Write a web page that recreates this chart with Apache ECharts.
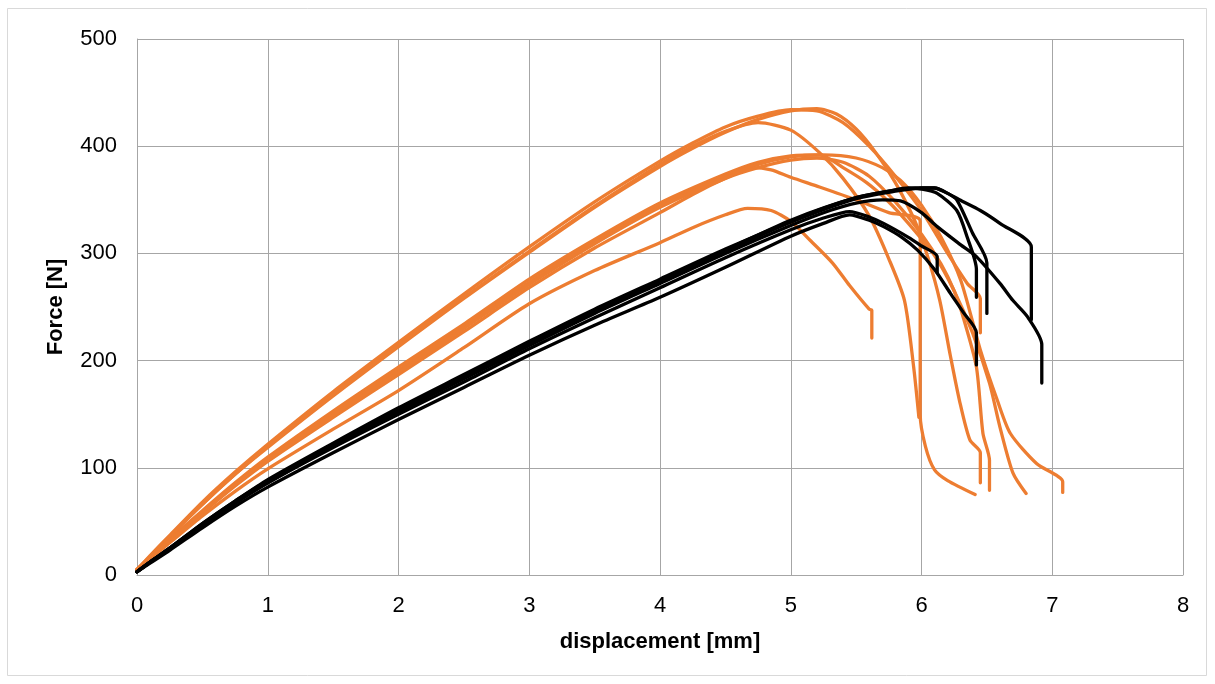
<!DOCTYPE html>
<html><head><meta charset="utf-8">
<script src="https://cdn.jsdelivr.net/npm/echarts@6/dist/echarts.min.js"></script>
<style>html,body{margin:0;padding:0;background:#fff}#c{width:1215px;height:684px}</style>
</head><body><div id="c"></div>
<script>
// Force [N] vs displacement [mm] — orange specimens
const orangeA1 = [[0,5],[0.1,18],[0.25,37],[0.5,68],[0.75,96],[1,122],[1.5,171],[2,217],[2.5,262],[3,306],[3.5,348],[4,386],[4.25,403],[4.5,418],[4.75,428],[5,434],[5.2,433],[5.4,422],[5.6,400],[5.8,372],[6.0,340],[6.2,300],[6.35,272],[6.45,258],[6.45,226]];
const orangeA2 = [[0,5],[0.1,17],[0.25,36],[0.5,66],[0.75,94],[1,119],[1.5,167],[2,213],[2.5,258],[3,301],[3.5,343],[4,381],[4.25,398],[4.5,413],[4.75,425],[5,433],[5.2,435],[5.35,430],[5.5,416],[5.65,394],[5.8,366],[5.95,330],[6.05,296],[6.14,256],[6.22,205],[6.29,163],[6.37,126],[6.45,114],[6.45,86]];
const orangeA3 = [[0,5],[0.1,17],[0.25,36],[0.5,66],[0.75,94],[1,120],[1.5,168],[2,214],[2.5,259],[3,302],[3.5,344],[4,383],[4.25,400],[4.5,414],[4.75,422],[5,415],[5.22,394],[5.4,370],[5.6,335],[5.75,295],[5.87,256],[5.94,194],[5.98,147]];
const orangeB1 = [[0,5],[0.1,16],[0.25,33],[0.5,60],[0.75,86],[1,110],[1.5,153],[2,194],[2.5,234],[3,276],[3.5,313],[4,347],[4.5,374],[4.75,385],[5,391],[5.25,392],[5.5,389],[5.7,380],[5.84,368],[6.0,345],[6.15,315],[6.3,275],[6.45,210],[6.58,163],[6.68,132],[6.88,104],[7.08,87],[7.08,77]];
const orangeB2 = [[0,5],[0.1,16],[0.25,33],[0.5,59],[0.75,85],[1,108],[1.5,151],[2,191],[2.5,232],[3,273],[3.5,311],[4,345],[4.5,372],[4.75,383],[5,390],[5.22,392],[5.4,380],[5.58,366],[5.75,348],[5.9,328],[6.1,298],[6.25,265],[6.39,226],[6.52,179],[6.6,138],[6.7,95],[6.8,76]];
const orangeB3 = [[0,5],[0.1,16],[0.25,32],[0.5,58],[0.75,83],[1,106],[1.5,147],[2,187],[2.5,227],[3,268],[3.5,305],[4,338],[4.25,355],[4.5,370],[4.7,380],[4.85,378],[5,371],[5.22,362],[5.5,350],[5.75,338],[5.99,330],[5.99,150],[6.03,120],[6.1,98],[6.2,88],[6.41,75]];
const orangeB4 = [[0,5],[0.1,16],[0.25,32],[0.5,58],[0.75,84],[1,107],[1.5,149],[2,189],[2.5,230],[3,271],[3.5,309],[4,343],[4.5,370],[4.75,380],[5,387],[5.2,389],[5.4,385],[5.6,372],[5.8,348],[6.0,318],[6.15,290],[6.25,265],[6.32,240],[6.42,194],[6.47,132],[6.52,107],[6.52,79]];
const orangeC  = [[0,5],[0.1,15],[0.25,30],[0.5,55],[0.75,78],[1,99],[1.5,136],[2,172],[2.5,212],[3,253],[3.5,284],[4,310],[4.25,324],[4.5,336],[4.67,342],[4.85,340],[5,330],[5.15,312],[5.32,291],[5.45,270],[5.6,248],[5.62,247],[5.62,221]];
// black specimens
const blackK1 = [[0,3],[0.1,12],[0.25,24],[0.5,46],[0.75,67],[1,86],[1.5,119],[2,150],[2.5,180],[3,211],[3.5,240],[4,268],[4.5,296],[5,322],[5.25,333],[5.45,339],[5.6,334],[5.71,328],[5.9,315],[6.0,307],[6.12,297],[6.12,282]];
const blackK2 = [[0,3],[0.1,12],[0.25,25],[0.5,48],[0.75,69],[1,89],[1.5,123],[2,156],[2.5,187],[3,218],[3.5,248],[4,276],[4.5,304],[5,330],[5.25,342],[5.5,352],[5.75,358],[5.9,361],[6.0,360],[6.12,356],[6.27,340],[6.35,315],[6.42,285],[6.42,259]];
const blackK3 = [[0,3],[0.1,12],[0.25,25],[0.5,47],[0.75,68],[1,88],[1.5,122],[2,154],[2.5,185],[3,216],[3.5,246],[4,274],[4.5,302],[5,329],[5.5,351],[5.8,358],[6.0,361],[6.1,361],[6.2,356],[6.27,350],[6.39,319],[6.5,291],[6.5,244]];
const blackK4 = [[0,3],[0.1,12],[0.25,25],[0.5,48],[0.75,69],[1,88],[1.5,122],[2,155],[2.5,186],[3,217],[3.5,247],[4,275],[4.5,303],[5,331],[5.5,352],[5.8,359],[6.0,361],[6.1,361],[6.2,356],[6.29,350],[6.45,340],[6.6,328],[6.84,306],[6.84,238]];
const blackK5 = [[0,3],[0.1,11],[0.25,23],[0.5,44],[0.75,64],[1,82],[1.5,114],[2,145],[2.5,175],[3,205],[3.5,233],[4,259],[4.5,287],[5,316],[5.25,328],[5.45,336],[5.6,331],[5.71,325],[5.85,315],[5.97,303],[6.1,285],[6.22,263],[6.32,245],[6.42,226],[6.42,196]];
const blackK6 = [[0,3],[0.1,12],[0.25,24],[0.5,46],[0.75,67],[1,86],[1.5,120],[2,152],[2.5,183],[3,214],[3.5,244],[4,272],[4.5,300],[5,326],[5.3,340],[5.5,347],[5.7,350],[5.84,349],[6.0,338],[6.12,325],[6.3,308],[6.42,297],[6.6,272],[6.7,256],[6.81,241],[6.92,215],[6.92,179]];

const orangeSeries = [orangeA1, orangeA2, orangeA3, orangeB1, orangeB2, orangeB3, orangeB4, orangeC];
const blackSeries = [blackK1, blackK2, blackK3, blackK4, blackK5, blackK6];
const xTickLabels = ['0','1','2','3','4','5','6','7','8'];
const yTickLabels = ['0','100','200','300','400','500'];

const ORANGE = '#ED7D31', BLACK = '#000000';
function mk(data, color){
  return {type:'line', data:data, showSymbol:false, symbol:'none', smooth:0.25,
    lineStyle:{color:color, width:3.3, join:'round', cap:'round'}, itemStyle:{color:color}, silent:true};
}
const series = orangeSeries.map(d=>mk(d,ORANGE)).concat(blackSeries.map(d=>mk(d,BLACK)));

const chart = echarts.init(document.getElementById('c'), null, {renderer:'canvas'});
const font = '"Liberation Sans", Arial, sans-serif';
chart.setOption({
  animation:false,
  backgroundColor:'#fff',
  graphic:[{type:'rect', shape:{x:7.5,y:8.5,width:1199,height:667}, style:{fill:'none', stroke:'#d9d9d9', lineWidth:1}, silent:true}],
  grid:{left:137, right:32, top:39, bottom:109},
  xAxis:{type:'value', min:0, max:8, interval:1,
    name:'displacement [mm]', nameLocation:'middle', nameGap:56,
    nameTextStyle:{fontFamily:font, fontSize:22, fontWeight:'bold', color:'#000'},
    axisLine:{show:true, lineStyle:{color:'#a6a6a6', width:1}}, axisTick:{show:false},
    axisLabel:{fontFamily:font, fontSize:22, color:'#000', margin:20, formatter:v=>xTickLabels[Math.round(v)]},
    splitLine:{show:true, lineStyle:{color:'#a6a6a6', width:1}}},
  yAxis:{type:'value', min:0, max:500, interval:100,
    name:'Force [N]', nameLocation:'middle', nameGap:70, nameRotate:90,
    nameTextStyle:{fontFamily:font, fontSize:22, fontWeight:'bold', color:'#000'},
    axisLine:{show:true, lineStyle:{color:'#a6a6a6', width:1}}, axisTick:{show:false},
    axisLabel:{fontFamily:font, fontSize:22, color:'#000', margin:20, formatter:v=>yTickLabels[Math.round(v/100)]},
    splitLine:{show:true, lineStyle:{color:'#a6a6a6', width:1}}},
  series:series
});
</script></body></html>
